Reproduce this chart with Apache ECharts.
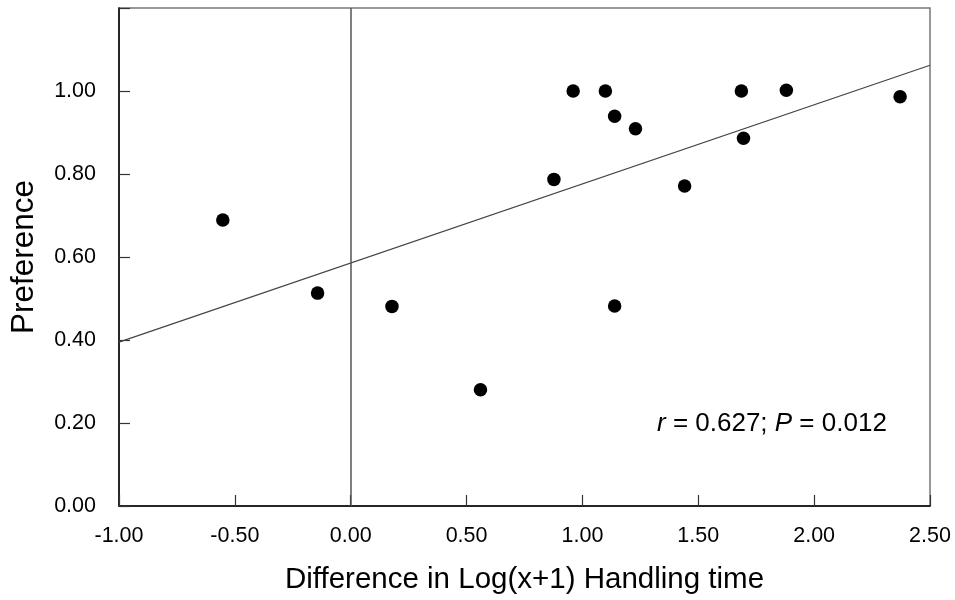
<!DOCTYPE html>
<html>
<head>
<meta charset="utf-8">
<script src="https://cdn.jsdelivr.net/npm/echarts@6/dist/echarts.min.js"></script>
<style>
  html, body { margin: 0; padding: 0; background: #fff; }
  #chart { width: 955px; height: 600px; }
</style>
</head>
<body>
<div id="chart"></div>
<script>
// measured points: difference in log(x+1) handling time vs preference
const diffLog = [-0.552, -0.143, 0.178, 0.560, 1.139, 0.877, 0.960, 1.099, 1.139, 1.229, 1.441, 1.686, 1.695, 1.880, 2.371];
const preference = [0.689, 0.513, 0.481, 0.280, 0.482, 0.787, 1.000, 1.000, 0.939, 0.909, 0.771, 1.000, 0.886, 1.002, 0.986];

// fitted regression line end points
const fitX = [-1.0, 2.5];
const fitY = [0.395, 1.062];

const xTicks = ['-1.00', '-0.50', '0.00', '0.50', '1.00', '1.50', '2.00', '2.50'];
const yTicks = ['0.00', '0.20', '0.40', '0.60', '0.80', '1.00'];

const font = "Arial, 'Liberation Sans', sans-serif";

const chart = echarts.init(document.getElementById('chart'));

chart.setOption({
  animation: false,
  backgroundColor: '#fff',
  grid: {
    left: 117, right: 25, top: 8, bottom: 93,
    show: true,
    borderColor: '#777',
    borderWidth: 1.5
  },
  xAxis: {
    type: 'value',
    min: -1, max: 2.5, interval: 0.5,
    name: 'Difference in Log(x+1) Handling time',
    nameLocation: 'middle',
    nameGap: 59,
    nameTextStyle: { fontFamily: font, fontSize: 29.5, color: '#000' },
    axisLine: { onZero: false, lineStyle: { color: '#000', width: 1.5 } },
    axisTick: { inside: true, length: 11, lineStyle: { color: '#333', width: 1.2 } },
    splitLine: { show: false },
    axisLabel: {
      margin: 19,
      fontFamily: font, fontSize: 21.5, color: '#000',
      formatter: v => xTicks.find(t => Math.abs(parseFloat(t) - v) < 1e-6) || ''
    }
  },
  yAxis: {
    type: 'value',
    min: 0, max: 1.2, interval: 0.2,
    name: 'Preference',
    nameLocation: 'middle',
    nameGap: 79,
    nameTextStyle: { fontFamily: font, fontSize: 31.5, color: '#000' },
    axisLine: { show: true, onZero: false, lineStyle: { color: '#000', width: 1.5 } },
    axisTick: { inside: true, length: 11, lineStyle: { color: '#333', width: 1.2 } },
    splitLine: { show: false },
    axisLabel: {
      margin: 23,
      fontFamily: font, fontSize: 21.5, color: '#000',
      formatter: v => yTicks.find(t => Math.abs(parseFloat(t) - v) < 1e-6) || ''
    }
  },
  series: [
    {
      type: 'line',
      data: fitX.map((x, i) => [x, fitY[i]]),
      symbol: 'none',
      lineStyle: { color: '#444', width: 1.2 },
      silent: true,
      markLine: {
        silent: true,
        symbol: 'none',
        label: { show: false },
        lineStyle: { color: '#555', width: 1.5, type: 'solid' },
        data: [{ xAxis: 0 }]
      }
    },
    {
      type: 'scatter',
      data: diffLog.map((x, i) => [x, preference[i]]),
      symbol: 'circle',
      symbolSize: 13.5,
      itemStyle: { color: '#000', opacity: 1 },
      z: 5
    }
  ],
  graphic: [
    {
      type: 'text',
      left: 657,
      top: 411,
      style: {
        text: '{i|r} = 0.627; {i|P} = 0.012',
        font: '26px ' + font,
        fill: '#000',
        rich: {
          i: { fontStyle: 'italic', fontSize: 26, fontFamily: font, fill: '#000' }
        }
      }
    }
  ]
});
</script>
</body>
</html>
